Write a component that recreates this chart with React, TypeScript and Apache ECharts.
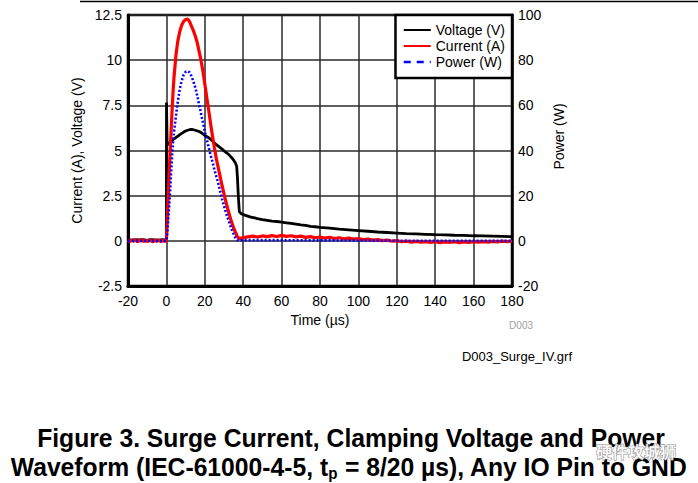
import React, { useEffect, useRef } from "react";
import * as echarts from "echarts";

// ---- Data ----
const xTicks = [-20, 0, 20, 40, 60, 80, 100, 120, 140, 160, 180];
const seriesNames = ["Voltage (V)", "Current (A)", "Power (W)"];

// Voltage (V) vs time (µs)
const voltageTime = [
  -20, -18, -16, -14, -12, -10, -8, -6, -4, -2, -1, 0, 0.05, 0.4, 1, 2, 3, 4, 5, 6, 7, 8, 9, 10,
  11, 12, 13, 14, 15, 16, 17, 18, 19, 20, 21, 22, 23, 24, 25, 26, 27, 28, 29, 30, 31, 32, 33, 34,
  35, 36, 36.6, 37, 37.5, 38, 39, 40, 42, 44, 46, 48, 50, 52.5, 55, 57.5, 60, 62.5, 65, 67.5, 70,
  72.5, 75, 77.5, 80, 85, 90, 95, 100, 105, 110, 115, 120, 125, 130, 135, 140, 145, 150, 155, 160,
  165, 170, 175, 180,
];
const voltage = [
  0.06, 0.04, 0.07, 0.05, 0.06, 0.03, 0.06, 0.05, 0.04, 0.06, 0.05, 0.05, 7.65, 5.3, 5.38, 5.45,
  5.55, 5.65, 5.72, 5.8, 5.88, 5.95, 6.02, 6.08, 6.12, 6.15, 6.17, 6.15, 6.12, 6.09, 6.05, 6.0,
  5.92, 5.84, 5.77, 5.71, 5.62, 5.52, 5.42, 5.32, 5.24, 5.16, 5.08, 4.98, 4.9, 4.82, 4.72, 4.6,
  4.47, 4.3, 4.12, 3.5, 2.4, 1.62, 1.5, 1.45, 1.38, 1.31, 1.27, 1.21, 1.17, 1.13, 1.09, 1.07,
  1.03, 1.0, 0.96, 0.92, 0.88, 0.85, 0.8, 0.78, 0.74, 0.7, 0.65, 0.61, 0.57, 0.53, 0.49, 0.46,
  0.43, 0.4, 0.38, 0.36, 0.34, 0.33, 0.31, 0.3, 0.28, 0.27, 0.26, 0.25, 0.23,
];

// Current (A) vs time (µs)
const currentTime = [
  -20, -19, -18, -17, -16, -15, -14, -13, -12, -11, -10, -9, -8, -7, -6, -5, -4, -3, -2, -1, 0,
  0.5, 1, 1.5, 2, 2.5, 3, 3.5, 4, 5, 6, 7, 8, 9, 10, 11, 12, 13, 14, 15, 16, 17, 18, 19, 20, 21,
  22, 23, 24, 25, 26, 27, 28, 29, 30, 31, 32, 33, 34, 35, 36, 37, 38, 39, 40, 42.5, 45, 47.5, 50,
  52.5, 55, 57.5, 60, 62.5, 65, 67.5, 70, 72.5, 75, 77.5, 80, 82.5, 85, 87.5, 90, 92.5, 95, 97.5,
  100, 102.5, 105, 107.5, 110, 112.5, 115, 117.5, 120, 122.5, 125, 127.5, 130, 132.5, 135, 137.5,
  140, 142.5, 145, 147.5, 150, 152.5, 155, 157.5, 160, 162.5, 165, 167.5, 170, 172.5, 175, 177.5,
  180,
];
const current = [
  0.03, -0.05, 0.06, -0.02, 0.05, -0.06, 0.02, 0.07, -0.04, 0.04, -0.05, 0.06, 0.0, -0.06, 0.05,
  -0.03, 0.06, -0.05, 0.03, -0.02, 0.0, 1.3, 2.6, 3.9, 5.1, 6.2, 7.3, 8.3, 9.1, 10.3, 11.1, 11.6,
  11.95, 12.15, 12.25, 12.27, 12.15, 11.9, 11.65, 11.35, 11.0, 10.5, 10.0, 9.4, 8.7, 7.95, 7.25,
  6.5, 5.8, 5.15, 4.55, 4.05, 3.55, 3.05, 2.6, 2.15, 1.75, 1.38, 1.02, 0.72, 0.46, 0.22, 0.12,
  0.15, 0.18, 0.22, 0.26, 0.21, 0.27, 0.23, 0.29, 0.24, 0.3, 0.25, 0.28, 0.22, 0.26, 0.19, 0.23,
  0.17, 0.21, 0.15, 0.19, 0.13, 0.17, 0.11, 0.15, 0.1, 0.13, 0.07, 0.1, 0.04, 0.07, 0.01, 0.04,
  -0.02, 0.01, -0.05, -0.02, -0.07, -0.03, -0.08, -0.04, -0.09, -0.05, -0.1, -0.06, -0.09, -0.05,
  -0.1, -0.06, -0.09, -0.05, -0.08, -0.04, -0.07, -0.03, -0.06, -0.02, -0.05, -0.01, -0.03,
];

// Power (W) vs time (µs)
const powerTime = [
  -20, -10, 0, 0.5, 1, 1.5, 2, 2.5, 3, 3.5, 4, 5, 6, 7, 8, 9, 10, 11, 12, 13, 14, 15, 16, 17, 18,
  19, 20, 21, 22, 23, 24, 25, 26, 27, 28, 29, 30, 31, 32, 33, 34, 35, 36, 37, 38, 40, 60, 80, 100,
  120, 140, 160, 180,
];
const power = [
  0, 0, 0, 4, 10, 16, 23, 31, 38, 44, 48.5, 55.5, 62, 67.5, 71, 73.5, 74.8, 75.2, 74.6, 73, 70.8,
  68, 64.5, 60.5, 56.5, 52.5, 48.5, 45, 41.5, 38, 35, 31.5, 28.5, 25.5, 22, 18.5, 15.5, 12.5, 10,
  7.4, 5, 3, 1.2, 0.3, 0.2, 0.3, 0.3, 0.2, 0.15, 0.05, 0, 0, 0,
];

const zip = (t: number[], v: number[]) => t.map((x, i) => [x, v[i]]);

const FONT = "'Liberation Sans', Arial, Helvetica, sans-serif";

export default function App() {
  const ref = useRef<HTMLDivElement>(null);

  useEffect(() => {
    if (!ref.current) return;
    const chart = echarts.init(ref.current, undefined, { renderer: "svg" });
    chart.setOption({
      animation: false,
      backgroundColor: "#ffffff",
      textStyle: { fontFamily: FONT },
      grid: {
        left: 128,
        right: 186,
        top: 15,
        bottom: 197,
        show: true,
        borderColor: "#000",
        borderWidth: 2.5,
        backgroundColor: "transparent",
      },
      legend: {
        right: 186,
        top: 15,
        orient: "vertical",
        align: "left",
        backgroundColor: "#fff",
        borderColor: "#000",
        borderWidth: 2.5,
        borderRadius: 0,
        padding: [8, 7, 9, 7],
        itemWidth: 27,
        itemHeight: 14,
        itemGap: 2,
        itemStyle: { color: "rgba(0,0,0,0)", borderColor: "rgba(0,0,0,0)", borderWidth: 0, opacity: 0 },
        textStyle: { fontSize: 14, color: "#000", fontFamily: FONT },
        data: [
          { name: seriesNames[0] },
          { name: seriesNames[1] },
          { name: seriesNames[2], lineStyle: { type: [7, 6], width: 2.5 } },
        ],
      },
      xAxis: {
        type: "value",
        min: xTicks[0],
        max: xTicks[xTicks.length - 1],
        interval: 20,
        name: "Time (µs)",
        nameLocation: "middle",
        nameGap: 25,
        nameTextStyle: { fontSize: 14, color: "#000", fontFamily: FONT },
        axisLine: { show: true, onZero: false, lineStyle: { color: "#000", width: 3 } },
        axisTick: { show: false },
        axisLabel: { fontSize: 14, color: "#000", margin: 8, fontFamily: FONT },
        splitLine: { show: true, lineStyle: { color: "#2a2a2a", width: 1.5 } },
      },
      yAxis: [
        {
          type: "value",
          min: -2.5,
          max: 12.5,
          interval: 2.5,
          name: "Current (A), Voltage (V)",
          nameLocation: "middle",
          nameGap: 44,
          nameTextStyle: { fontSize: 14, color: "#000", fontFamily: FONT },
          axisLine: { show: true, onZero: false, lineStyle: { color: "#000", width: 3 } },
          axisTick: { show: false },
          axisLabel: { fontSize: 14, color: "#000", margin: 6, fontFamily: FONT },
          splitLine: { show: true, lineStyle: { color: "#2a2a2a", width: 1.5 } },
        },
        {
          type: "value",
          min: -20,
          max: 100,
          interval: 20,
          position: "right",
          name: "Power (W)",
          nameLocation: "middle",
          nameRotate: 90,
          nameGap: 40,
          nameTextStyle: { fontSize: 14, color: "#000", fontFamily: FONT, padding: [0, 0, 0, 28] },
          axisLine: { show: true, onZero: false, lineStyle: { color: "#000", width: 2.5 } },
          axisTick: { show: false },
          axisLabel: { fontSize: 14, color: "#000", margin: 6, fontFamily: FONT },
          splitLine: { show: false },
        },
      ],
      series: [
        {
          name: seriesNames[0],
          type: "line",
          yAxisIndex: 0,
          data: zip(voltageTime, voltage),
          symbol: "none",
          lineStyle: { color: "#000000", width: 2.8 },
          itemStyle: { color: "#000000" },
          z: 3,
        },
        {
          name: seriesNames[1],
          type: "line",
          yAxisIndex: 0,
          data: zip(currentTime, current),
          symbol: "none",
          lineStyle: { color: "#ff0000", width: 3.2 },
          itemStyle: { color: "#ff0000" },
          z: 4,
        },
        {
          name: seriesNames[2],
          type: "line",
          yAxisIndex: 1,
          data: zip(powerTime, power),
          symbol: "none",
          lineStyle: { color: "#0000ff", width: 2.6, type: [2, 2] },
          itemStyle: { color: "#0000ff" },
          z: 5,
        },
      ],
      graphic: [
        {
          type: "line",
          shape: { x1: 80, y1: 1.5, x2: 698, y2: 1.5 },
          style: { stroke: "#000", lineWidth: 1.5 },
        },
        {
          type: "text",
          x: 533,
          y: 325,
          style: {
            text: "D003",
            fill: "#a0a0a0",
            font: `10px ${FONT}`,
            align: "right",
            verticalAlign: "middle",
          },
        },
        {
          type: "text",
          x: 572,
          y: 356,
          style: {
            text: "D003_Surge_IV.grf",
            fill: "#000",
            font: `13px ${FONT}`,
            align: "right",
            verticalAlign: "middle",
          },
        },
        {
          type: "text",
          x: 351,
          y: 438,
          scaleX: 0.95,
          style: {
            text: "Figure 3. Surge Current, Clamping Voltage and Power",
            fill: "#000",
            font: `bold 26px ${FONT}`,
            align: "center",
            verticalAlign: "middle",
          },
        },
        {
          type: "text",
          x: 349,
          y: 467,
          scaleX: 0.95,
          style: {
            text: "{m|Waveform (IEC-61000-4-5, t}{s|p}{m| = 8/20 µs), Any IO Pin to GND}",
            fill: "#000",
            align: "center",
            verticalAlign: "middle",
            rich: {
              m: { font: `bold 26px ${FONT}`, lineHeight: 28, verticalAlign: "middle", fill: "#000" },
              s: { font: `bold 16px ${FONT}`, lineHeight: 16, verticalAlign: "bottom", fill: "#000" },
            },
          },
        },
        {
          type: "text",
          x: 636,
          y: 451,
          z: 10,
          style: {
            text: "硬件攻城狮",
            fill: "rgba(255,255,255,0.9)",
            stroke: "#8a8a8a",
            lineWidth: 1,
            font: `bold 16px 'Noto Sans CJK SC', sans-serif`,
            align: "center",
            verticalAlign: "middle",
          },
        },
      ],
    });
    return () => chart.dispose();
  }, []);

  return <div ref={ref} style={{ width: 698, height: 483, position: "absolute", left: 0, top: 0 }} />;
}
